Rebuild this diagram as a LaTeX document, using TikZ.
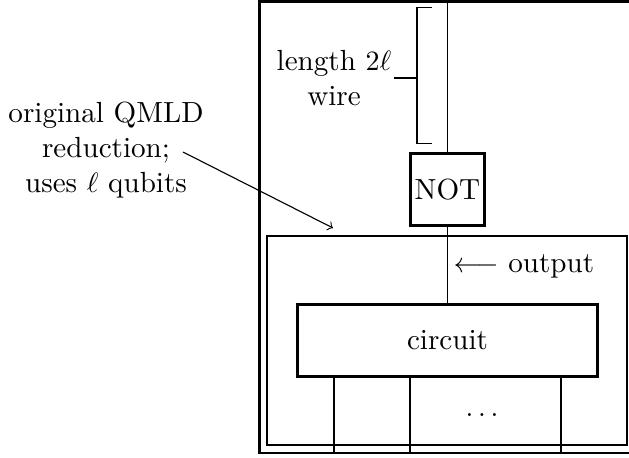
\documentclass[tikz,border=0pt]{standalone}
\usetikzlibrary{arrows}

\begin{document}
\begin{tikzpicture}[x=0.3571pt,y=0.3571pt,yscale=-1,
  every node/.style={font=\fontsize{10.4}{12.5}\selectfont},
  frame/.style={draw,thick},
  gatebox/.style={draw,line width=1pt,inner sep=0pt},
  wire/.style={line width=0.4pt},
  lbl/.style={inner sep=0.75pt,align=center}]
\useasboundingbox (0,0) rectangle (629,457);

%Shape: outer frame
\draw [frame] (259.5,1.5) rectangle (640,453);
%Shape: reduction box
\node [frame,minimum width=128.6pt,minimum height=74.6pt] (qmld) at (447,340.5) {};

% Gate Nodes
\node [gatebox,minimum width=26.4pt,minimum height=25.7pt] (not) at (447.5,189.5) {NOT};
\node [gatebox,minimum width=107.1pt,minimum height=25.7pt] (circuit) at (447.5,340.5) {circuit};

%Wire
\coordinate (top) at (447.5,1.5);
\draw [wire] (top) -- (not);
\draw [wire] (not) -- (circuit);
%Input legs
\foreach \xx in {334,410,561}
  \draw [wire] (circuit.south -| \xx,0) -- (\xx,453);

% Text Node
\node [lbl] (len) at (334,78) {length $2\ell$\\wire};
%Bracket
\coordinate (brtop) at (417,7.5);
\coordinate (brbot) at (417,143.5);
\draw [wire] (432,7.5) -- (brtop) -- (brbot) -- (432,143.5);
\draw [wire] (len.east) -- (len.east -| brtop);

% Text Node
\node [lbl] (orig) at (106,150.5) {original QMLD\\reduction;\\uses $\ell$ qubits};
\coordinate (from) at (183,152);
\coordinate (into) at (333,228);
\draw [wire,->] (from) -- (into);

% Text Node
\node [anchor=base west,inner sep=0pt] (out) at (453,272) {$\longleftarrow$ output};
% Text Node
\node [anchor=base,inner sep=0pt] (dots) at (482,416) {$\dots$};

\end{tikzpicture}
\end{document}
